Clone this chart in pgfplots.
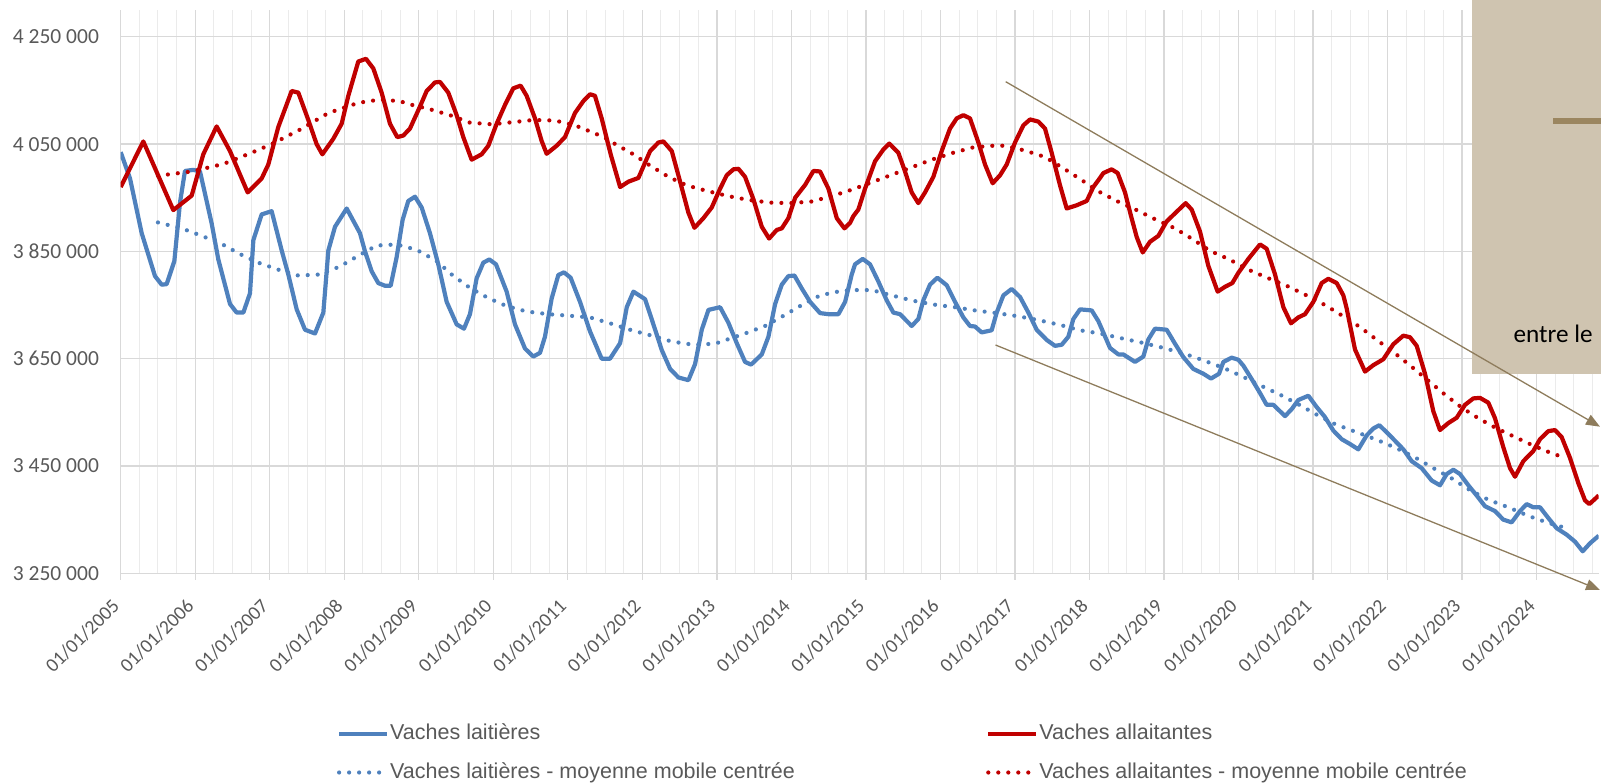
\documentclass[border=0pt]{standalone}
\usepackage{fontspec}
\setmainfont{Carlito}
\newfontfamily\legfont{Liberation Sans}
\usepackage{pgfplots}
\pgfplotsset{compat=1.18}
\usepackage{pgfplotstable}
\usetikzlibrary{arrows.meta}
\definecolor{bleu}{HTML}{4F81BD}
\definecolor{rouge}{HTML}{C00000}
\definecolor{grille}{HTML}{D9D9D9}
\definecolor{grillemin}{HTML}{EBEBEB}
\definecolor{texte}{HTML}{595959}
\definecolor{encadre}{HTML}{CFC4B0}
\definecolor{brun}{HTML}{8E7C5C}
\definecolor{brunfonce}{HTML}{9B8660}

% m = months since 01/01/2005
\pgfplotstableread{
m v
0 4035000
1.50 3986000
3.38 3884000
5.52 3804000
6.60 3788000
7.40 3789000
8.64 3832000
9.55 3941000
10.35 4000000
11.70 4002000
12.77 3999000
14.65 3902000
15.72 3835000
17.60 3752000
18.67 3736000
19.75 3736000
20.82 3772000
21.36 3871000
22.70 3919000
24.31 3925000
25.92 3852000
26.99 3807000
28.34 3742000
29.68 3704000
31.29 3697000
32.63 3736000
33.44 3852000
34.51 3896000
36.39 3930000
38.53 3884000
39.34 3850000
40.41 3813000
41.48 3791000
42.56 3786000
43.47 3786000
44.43 3839000
45.40 3909000
46.31 3944000
47.39 3952000
48.46 3932000
49.80 3884000
51.14 3826000
52.49 3756000
54.10 3714000
55.28 3706000
56.24 3733000
57.32 3800000
58.39 3829000
59.36 3835000
60.43 3826000
62.15 3775000
63.49 3714000
65.10 3669000
66.44 3654000
67.52 3661000
68.32 3691000
69.39 3762000
70.47 3806000
71.38 3811000
72.45 3801000
73.96 3756000
75.57 3701000
77.45 3650000
78.79 3650000
80.42 3679000
81.49 3746000
82.56 3775000
84.44 3761000
85.78 3714000
87.13 3666000
88.47 3631000
89.81 3615000
91.42 3610000
92.49 3640000
93.57 3704000
94.64 3741000
96.52 3746000
97.86 3717000
99.20 3679000
100.54 3644000
101.51 3639000
103.23 3658000
104.30 3691000
105.38 3752000
106.45 3788000
107.52 3804000
108.49 3805000
109.67 3781000
111.01 3756000
112.62 3735000
113.96 3733000
115.57 3733000
116.65 3756000
117.72 3807000
118.25 3826000
119.48 3836000
120.66 3826000
122.00 3794000
123.34 3759000
124.42 3736000
125.49 3733000
127.37 3711000
128.44 3724000
129.25 3759000
130.32 3788000
131.50 3801000
133.01 3787000
134.35 3756000
135.69 3727000
136.76 3711000
137.57 3710000
138.64 3699000
140.25 3703000
141.06 3736000
142.13 3768000
143.47 3780000
144.82 3765000
146.16 3736000
147.50 3704000
149.11 3685000
150.45 3674000
151.53 3676000
152.60 3691000
153.40 3724000
154.48 3742000
156.36 3740000
157.43 3720000
157.96 3706000
159.31 3670000
160.65 3658000
161.45 3658000
163.33 3644000
164.67 3654000
165.48 3686000
166.55 3706000
168.43 3704000
169.77 3678000
171.11 3653000
172.72 3631000
174.33 3622000
175.57 3613000
176.86 3622000
177.56 3644000
178.90 3652000
179.97 3648000
180.78 3637000
182.12 3612000
183.46 3586000
184.53 3564000
185.61 3564000
187.49 3543000
188.56 3556000
189.63 3573000
191.24 3581000
192.58 3560000
193.93 3541000
195.27 3516000
196.61 3500000
197.95 3491000
199.29 3481000
200.63 3507000
201.71 3520000
202.67 3526000
203.85 3513000
205.20 3497000
206.54 3481000
207.88 3459000
209.49 3446000
211.10 3423000
212.44 3414000
213.52 3435000
214.59 3443000
215.66 3435000
217.01 3414000
218.35 3395000
219.69 3375000
221.30 3366000
222.64 3350000
223.98 3345000
225.33 3366000
226.40 3379000
227.47 3373000
228.55 3373000
229.89 3353000
231.23 3334000
232.84 3322000
234.18 3309000
235.42 3291000
236.60 3306000
238 3320000
}\laitieres

\pgfplotstableread{
m v
0 3970000
3.64 4055000
8.47 3927000
11.43 3954000
13.30 4031000
15.45 4083000
17.60 4037000
20.44 3960000
22.70 3986000
23.77 4012000
25.38 4082000
27.53 4149000
28.60 4146000
30.21 4095000
31.55 4050000
32.47 4031000
34.24 4060000
35.58 4088000
36.65 4140000
38.26 4204000
39.50 4209000
40.68 4191000
42.02 4146000
43.36 4088000
44.54 4063000
45.51 4066000
46.58 4079000
48.19 4120000
49.27 4149000
50.61 4165000
51.41 4166000
52.75 4146000
54.10 4104000
55.17 4063000
56.51 4021000
58.12 4031000
59.20 4047000
60.54 4088000
61.88 4123000
63.22 4154000
64.40 4159000
65.37 4140000
66.71 4098000
67.78 4056000
68.59 4032000
70.20 4047000
71.54 4063000
73.15 4108000
74.49 4130000
75.57 4143000
76.37 4140000
77.45 4098000
78.90 4031000
80.42 3970000
81.76 3980000
83.37 3987000
85.25 4037000
86.59 4053000
87.39 4055000
88.74 4037000
90.08 3980000
91.42 3922000
92.39 3894000
93.83 3912000
95.18 3932000
96.52 3967000
97.59 3992000
98.67 4003000
99.47 4004000
100.54 3989000
101.89 3947000
103.23 3896000
104.41 3874000
105.64 3890000
106.45 3893000
107.52 3912000
108.60 3950000
110.21 3974000
111.55 4000000
112.62 3999000
113.96 3967000
115.31 3912000
116.54 3893000
117.44 3903000
117.99 3916000
118.78 3928000
119.86 3967000
121.47 4018000
122.81 4040000
123.77 4051000
125.22 4034000
126.30 3999000
127.37 3960000
128.44 3940000
129.52 3960000
130.86 3989000
132.20 4037000
133.54 4079000
134.62 4098000
135.69 4104000
136.76 4098000
138.11 4053000
139.18 4012000
140.41 3977000
141.60 3992000
142.67 4012000
144.01 4053000
145.35 4085000
146.43 4096000
147.77 4092000
148.84 4079000
149.91 4034000
151.26 3973000
152.33 3930000
153.94 3936000
155.55 3944000
156.62 3970000
157.70 3987000
158.23 3996000
159.57 4003000
160.54 3996000
161.72 3960000
162.69 3916000
163.60 3877000
164.57 3848000
165.75 3868000
167.09 3879000
168.43 3906000
170.04 3924000
171.49 3940000
172.46 3928000
173.80 3887000
175.14 3823000
176.64 3775000
177.82 3784000
179.00 3791000
179.97 3810000
181.58 3836000
183.46 3863000
184.53 3855000
185.88 3807000
187.22 3746000
188.45 3716000
189.63 3727000
190.71 3733000
192.05 3756000
193.39 3791000
194.46 3799000
195.81 3791000
196.88 3768000
197.41 3744000
198.76 3667000
200.37 3626000
201.71 3638000
203.32 3649000
204.93 3677000
206.54 3693000
207.61 3690000
208.69 3674000
210.03 3622000
211.37 3552000
212.44 3517000
213.78 3530000
215.13 3540000
216.47 3564000
217.81 3576000
218.88 3577000
220.23 3568000
221.30 3539000
222.64 3485000
223.72 3446000
224.52 3430000
225.86 3459000
227.47 3478000
228.55 3500000
229.89 3515000
230.96 3517000
232.03 3504000
233.38 3465000
234.72 3418000
235.79 3386000
236.49 3379000
238 3395000
}\allaitantes

\pgfplotstableread{
m v
6 3904000
9.82 3893000
13.04 3879000
16.26 3864000
19.21 3845000
22.16 3829000
25.38 3816000
28.60 3805000
32.09 3807000
35.31 3822000
38.27 3842000
41.21 3861000
44.43 3863000
47.66 3853000
50.88 3832000
53.29 3807000
56.24 3782000
59.20 3763000
62.15 3748000
65.37 3738000
68.86 3733000
72.35 3730000
75.57 3727000
78.79 3716000
82.29 3703000
85.51 3693000
88.74 3682000
92.22 3676000
95.71 3678000
100.54 3697000
103.76 3711000
106.72 3730000
109.67 3750000
112.62 3768000
115.84 3776000
117.72 3778000
120.93 3778000
124.15 3768000
127.64 3758000
130.86 3751000
134.35 3746000
137.57 3740000
141.06 3735000
144.55 3729000
147.77 3722000
151.26 3713000
154.48 3703000
157.70 3697000
161.18 3688000
164.40 3680000
167.62 3671000
171.11 3660000
174.33 3647000
177.56 3633000
180.78 3616000
183.73 3599000
186.68 3583000
189.63 3565000
192.85 3544000
195.54 3528000
199.02 3513000
202.24 3499000
205.47 3483000
208.42 3466000
211.37 3446000
214.32 3427000
217.27 3405000
220.23 3387000
223.45 3373000
226.67 3357000
229.89 3344000
232.84 3334000
}\laitieresmm

\pgfplotstableread{
m v
6 3991000
11.43 3999000
16.53 4013000
21.09 4034000
24.31 4050000
28.87 4077000
33.44 4108000
38.27 4127000
41.75 4133000
44.97 4130000
46.58 4124000
49.80 4115000
53.02 4104000
56.24 4090000
59.73 4087000
63.22 4091000
66.44 4095000
69.93 4094000
73.15 4085000
76.37 4070000
78.25 4060000
79.34 4052000
82.56 4031000
84.98 4012000
88.20 3989000
91.15 3973000
94.64 3962000
97.86 3953000
101.08 3946000
104.57 3941000
107.79 3940000
111.28 3943000
114.77 3954000
117.72 3965000
121.20 3980000
124.42 3994000
127.64 4008000
130.59 4021000
134.08 4034000
137.30 4044000
140.52 4047000
142.40 4047000
145.62 4038000
148.84 4026000
151.79 4005000
154.48 3985000
157.43 3962000
160.38 3944000
163.60 3927000
166.55 3910000
169.77 3893000
172.72 3872000
175.41 3851000
178.36 3836000
181.58 3816000
184.80 3800000
187.75 3786000
190.97 3768000
193.93 3750000
196.88 3729000
199.56 3709000
202.51 3683000
205.20 3660000
207.88 3635000
210.56 3609000
213.25 3583000
215.93 3559000
218.62 3539000
221.57 3520000
224.52 3504000
227.47 3488000
230.16 3475000
232.84 3464000
}\allaitantesmm

\begin{document}
\begin{tikzpicture}
\begin{axis}[
  at={(60.35pt,104.35pt)}, anchor=south west,
  scale only axis, width=739pt, height=281.65pt,
  xmin=0, xmax=238, ymin=3250000, ymax=4300000,
  axis x line=bottom, axis y line=left,
  axis line style={draw=grille, line width=0.65pt, -},
  xtick={0,12,24,36,48,60,72,84,96,108,120,132,144,156,168,180,192,204,216,228},
  xticklabels={01/01/2005,01/01/2006,01/01/2007,01/01/2008,01/01/2009,01/01/2010,01/01/2011,01/01/2012,01/01/2013,01/01/2014,01/01/2015,01/01/2016,01/01/2017,01/01/2018,01/01/2019,01/01/2020,01/01/2021,01/01/2022,01/01/2023,01/01/2024},
  minor xtick={3,6,9,15,18,21,27,30,33,39,42,45,51,54,57,63,66,69,75,78,81,87,90,93,99,102,105,111,114,117,123,126,129,135,138,141,147,150,153,159,162,165,171,174,177,183,186,189,195,198,201,207,210,213,219,222,225,231,234,237},
  ytick={3250000,3450000,3650000,3850000,4050000,4250000},
  yticklabels={3 250 000,3 450 000,3 650 000,3 850 000,4 050 000,4 250 000},
  scaled y ticks=false, scaled x ticks=false,
  xmajorgrids, xminorgrids, ymajorgrids,
  major grid style={draw=grille, line width=0.65pt},
  minor grid style={draw=grillemin, line width=0.5pt},
  tick align=outside, major tick length=3.3pt, minor tick length=0pt,
  x tick style={draw=grille, line width=0.65pt}, y tick style={draw=none},
  /pgf/number format/assume math mode=true,
  ticklabel style={font=\fontsize{10.75}{12}\selectfont, text=texte},
  yticklabel style={anchor=east, inner sep=0pt, xshift=-7.4pt},
  xticklabel style={font=\fontsize{9.8}{11}\selectfont, xshift=-5pt, yshift=-8.5pt, rotate=45, anchor=north east, inner sep=0pt},
  legend columns=2,
  legend cell align=left,
  legend style={at={(0.14635,-0.26700)}, anchor=north west, draw=none, fill=none,
    inner sep=0pt, outer sep=0pt, row sep=8.65pt, column sep=0.5pt,
    font=\legfont\fontsize{10.75}{12}\selectfont, text=texte,
    nodes={inner sep=0pt, text height=8pt, text depth=2.5pt}},
  legend image code/.code={\draw[#1] (0pt,0pt) -- (24pt,0pt);},
]
\addplot[bleu, line width=2.1pt, line join=round] table[x=m, y=v] {\laitieres};
\addlegendentry{\makebox[297.5pt][l]{Vaches laitières}}
\addplot[rouge, line width=2.1pt, line join=round] table[x=m, y=v] {\allaitantes};
\addlegendentry{Vaches allaitantes}
\addplot[bleu, line width=2.1pt, line cap=round, dash pattern=on 0pt off 5pt] table[x=m, y=v] {\laitieresmm};
\addlegendentry{\makebox[297.5pt][l]{Vaches laitières - moyenne mobile centrée}}
\addplot[rouge, line width=2.1pt, line cap=round, dash pattern=on 0pt off 5pt] table[x=m, y=v] {\allaitantesmm};
\addlegendentry{Vaches allaitantes - moyenne mobile centrée}
\end{axis}
\fill[encadre] (736pt,203.85pt) rectangle (800.5pt,391pt);
\fill[brunfonce] (776.5pt,329.1pt) rectangle (800.5pt,331.9pt);
\node[anchor=base east, inner sep=0pt, font=\fontsize{12.6}{14}\selectfont, text=black] at (796.5pt,219.5pt) {entre le};
\draw[brun, line width=0.65pt, -{Triangle[length=7pt,width=5.5pt]}] (502.85pt,350.15pt) -- (800pt,177.65pt);
\draw[brun, line width=0.65pt, -{Triangle[length=7pt,width=5.5pt]}] (497.75pt,218.5pt) -- (800pt,96pt);
\pgfresetboundingbox
\useasboundingbox (0pt,0pt) rectangle (800.5pt,391pt);
\end{tikzpicture}
\end{document}
